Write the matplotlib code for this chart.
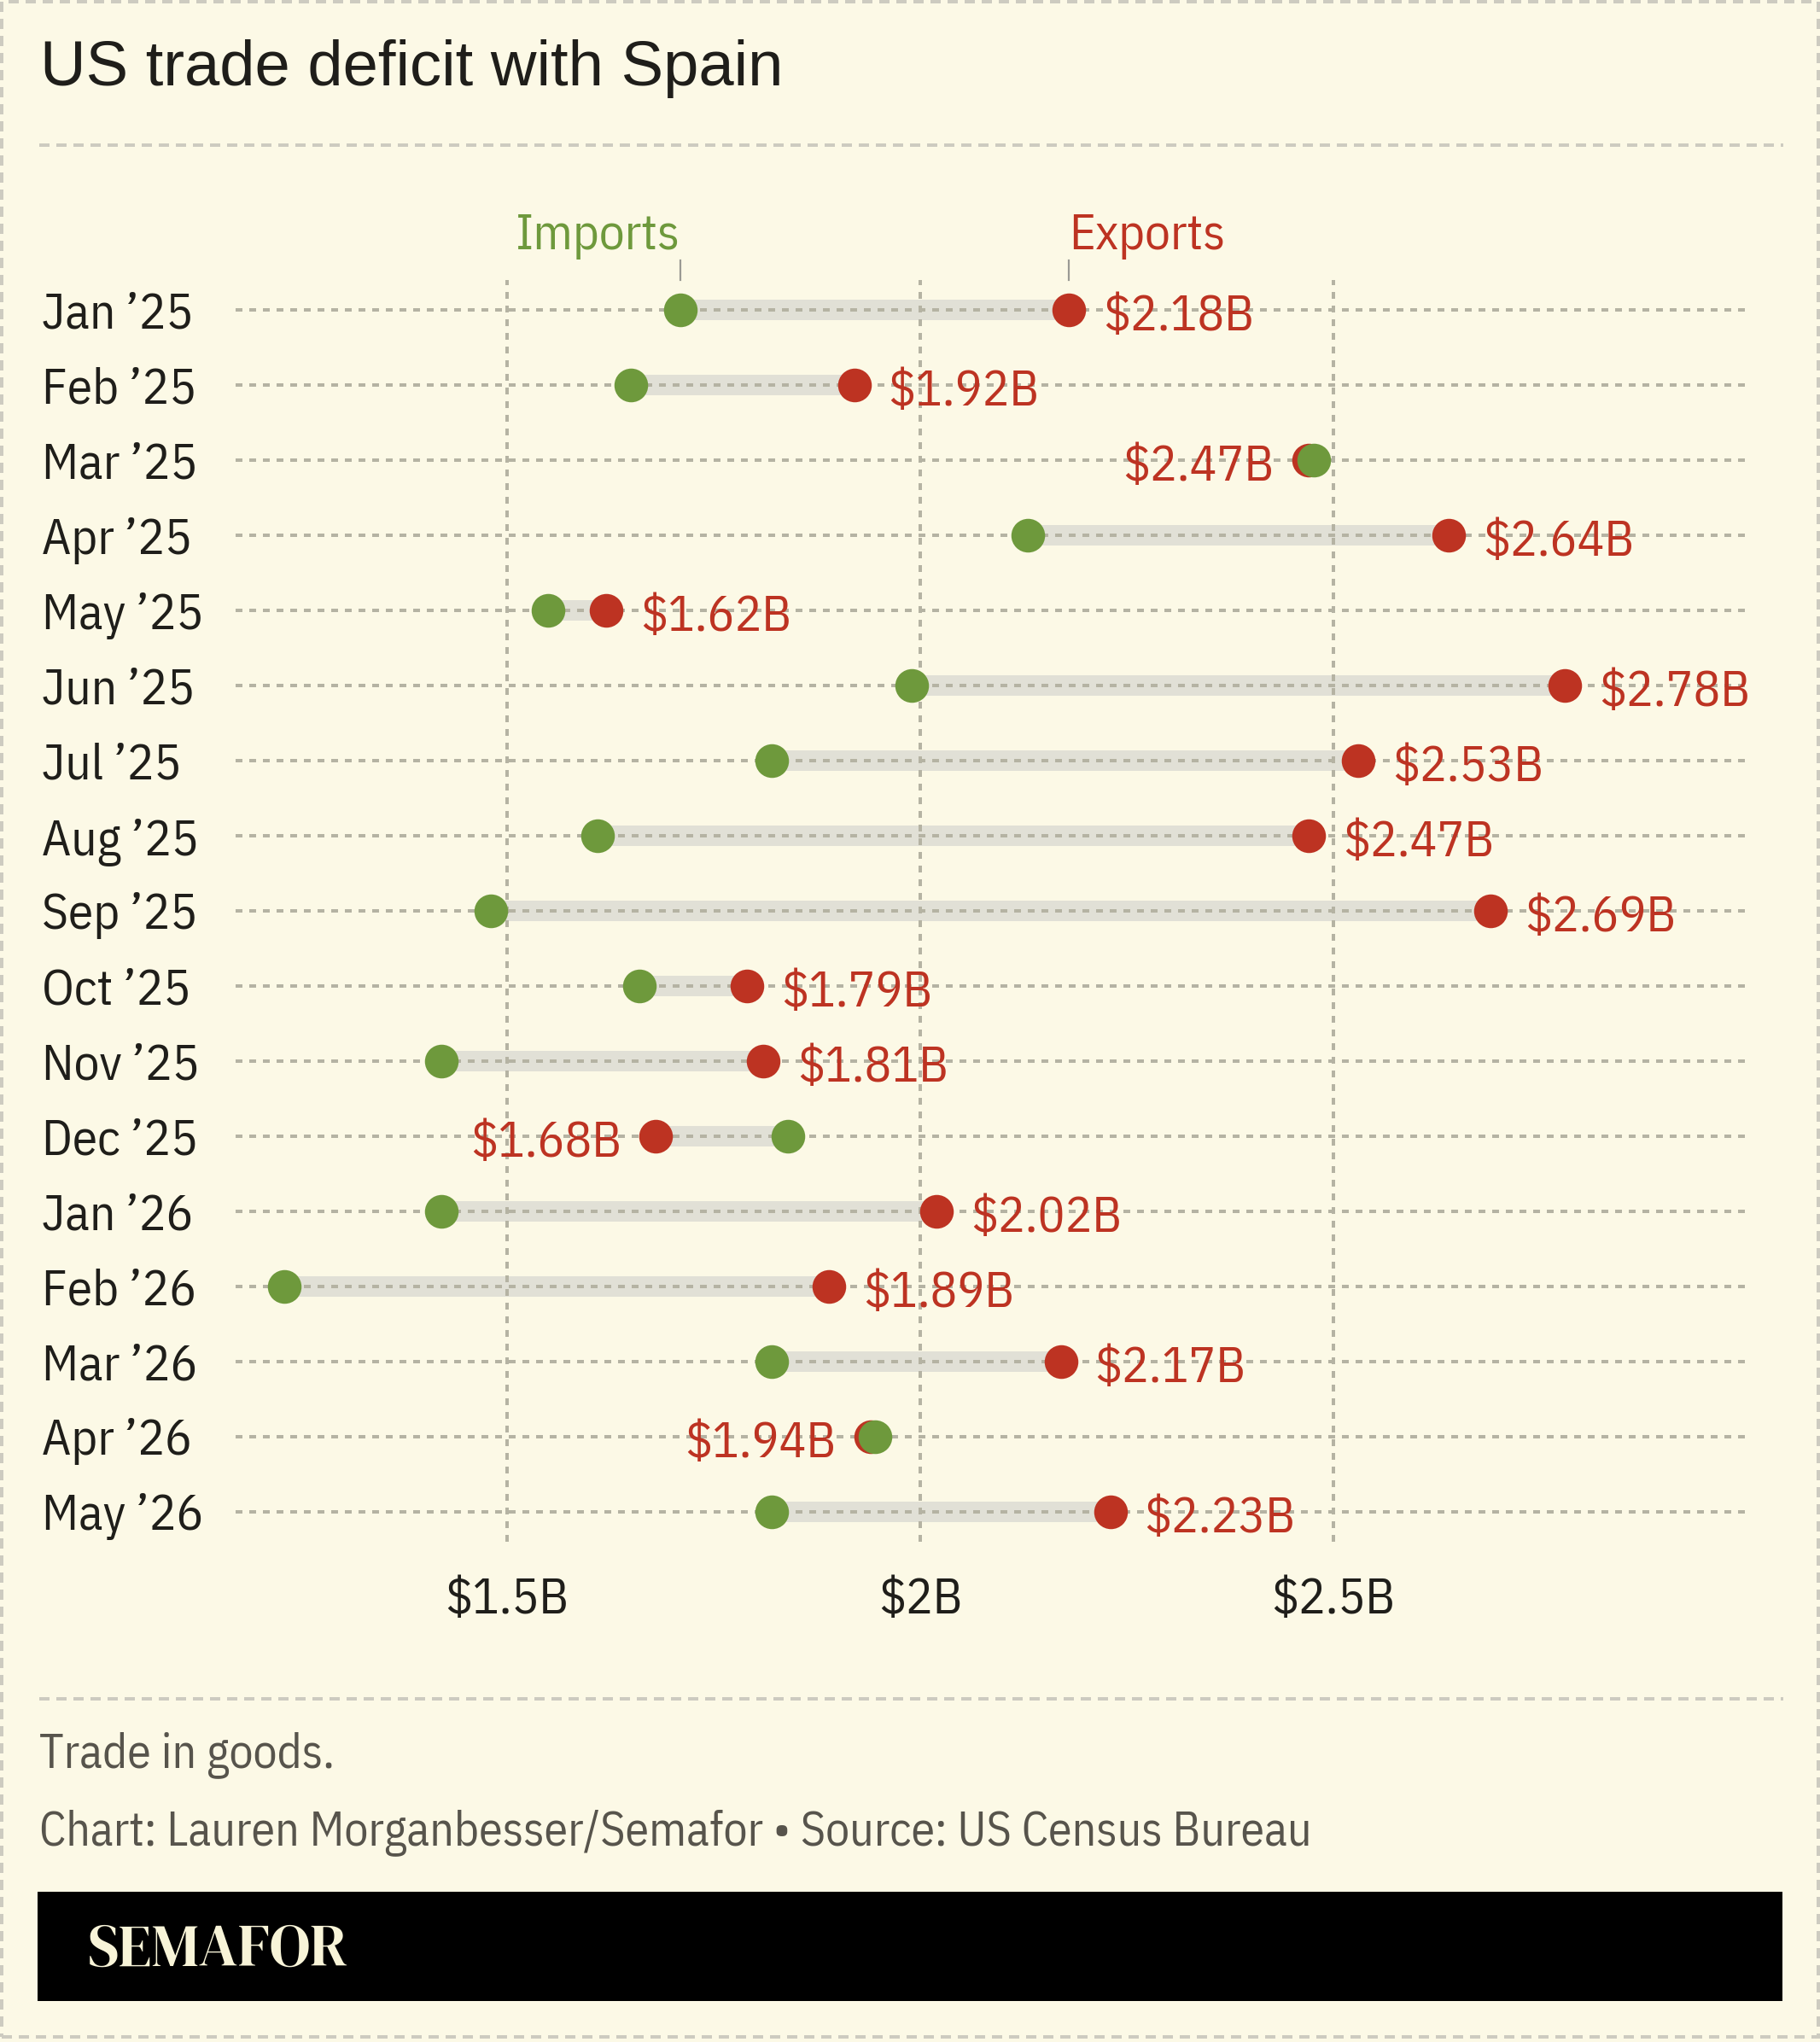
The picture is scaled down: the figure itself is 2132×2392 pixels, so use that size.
import matplotlib
matplotlib.use("Agg")
import matplotlib.pyplot as plt
from matplotlib.lines import Line2D
from matplotlib.patches import Rectangle

# ---------------- data ----------------
months = ["Jan ’25", "Feb ’25", "Mar ’25", "Apr ’25", "May ’25", "Jun ’25",
          "Jul ’25", "Aug ’25", "Sep ’25", "Oct ’25", "Nov ’25", "Dec ’25",
          "Jan ’26", "Feb ’26", "Mar ’26", "Apr ’26", "May ’26"]
exports = [2.18, 1.92, 2.47, 2.64, 1.62, 2.78, 2.53, 2.47, 2.69, 1.79,
           1.81, 1.68, 2.02, 1.89, 2.17, 1.94, 2.23]
imports = [1.71, 1.65, 2.476, 2.13, 1.55, 1.99, 1.82, 1.61, 1.48, 1.66,
           1.42, 1.84, 1.42, 1.23, 1.82, 1.945, 1.82]
tick_values = [1.5, 2.0, 2.5]
tick_labels = ["$1.5B", "$2B", "$2.5B"]

title = "US trade deficit with Spain"
note = "Trade in goods."
credit = "Chart: Lauren Morganbesser/Semafor • Source: US Census Bureau"
logo = "SEMAFOR"

# ---------------- style ----------------
BG = "#FCF9E6"
GREEN = "#6E993C"
RED = "#BD3322"
BAR = "#E1E0D6"
GRID = "#B5B3A3"
SEP = "#CDCBC0"
TEXT = "#1F1E1A"
FOOT = "#57544C"
LOGO = "#F8F4D8"
COND = ["IBM Plex Sans Condensed", "DejaVu Sans"]
TITLEF = ["Liberation Sans", "DejaVu Sans"]
LOGOF = ["DM Serif Display", "Playfair Display", "Liberation Serif", "DejaVu Serif"]
LBL = 21.3

W, H, DPI = 2132, 2392, 200
PX = 72.0 / DPI  # points per pixel

fig = plt.figure(figsize=(W / DPI, H / DPI), dpi=DPI, facecolor=BG)
renderer = fig.canvas.get_renderer()


def fx(px):
    return px / W


def fy(py):
    return 1 - py / H


def fit_size(text, family, target_px, weight="normal", base=20.0):
    t = fig.text(0, 0, text, fontsize=base, family=family, weight=weight)
    w = t.get_window_extent(renderer).width
    t.remove()
    return base * target_px / w


# ---------------- axes ----------------
ax_left, ax_right, ax_top, ax_bot = 276, 2044, 328, 1806
ax = fig.add_axes([fx(ax_left), fy(ax_bot), fx(ax_right - ax_left), (ax_bot - ax_top) / H])
ax.set_facecolor("none")
rows = list(range(len(months)))
ax.set_xlim(1.1715, 2.998)
ax.set_ylim(len(months) - 1 + 0.4, -0.4)
for s in ax.spines.values():
    s.set_visible(False)

# connector bars
bars = ax.hlines(rows, imports, exports, color=BAR, lw=24 * PX, zorder=1)
bars.set_capstyle("butt")

# grid
ax.set_axisbelow(False)
ax.grid(True, which="major", axis="both", color=GRID, lw=4 * PX,
        linestyle=(0, (2, 2)))

# dots: exports first, imports on top
ax.plot(exports, rows, "o", color=RED, ms=39.5 * PX, mew=0, zorder=4, clip_on=False)
ax.plot(imports, rows, "o", color=GREEN, ms=39.5 * PX, mew=0, zorder=5, clip_on=False)

# ticks
ax.set_xticks(tick_values, labels=tick_labels)
ax.set_yticks(rows, labels=months)
ax.tick_params(axis="x", length=0, pad=14.8, labelsize=LBL, labelcolor=TEXT)
ax.tick_params(axis="y", length=0, pad=(ax_left - 49) * PX, labelsize=LBL, labelcolor=TEXT)
for lab in ax.get_xticklabels() + ax.get_yticklabels():
    lab.set_family(COND)
for lab in ax.get_yticklabels():
    lab.set_ha("left")

# value labels
for r, (e, i) in enumerate(zip(exports, imports)):
    right = e >= i
    ax.annotate(f"${e:.2f}B", xy=(e, r), xytext=((40 if right else -40) * PX, -24 * PX),
                textcoords="offset points", ha="left" if right else "right",
                va="baseline", color=RED, fontsize=LBL, family=COND, zorder=6,
                annotation_clip=False)

# legend labels with leader ticks
xa = ax.get_xaxis_transform()
for val, txt, col, ha in [(imports[0], "Imports", GREEN, "right"),
                          (exports[0], "Exports", RED, "left")]:
    ax.add_line(Line2D([val, val], [1.0, 1.0 + 23 / (ax_bot - ax_top)], transform=xa,
                       color="#9A9A94", lw=2.2 * PX, clip_on=False))
    ax.annotate(txt, xy=(val, 1.0), xycoords=xa, xytext=(0, 36 * PX),
                textcoords="offset points", ha=ha, va="baseline", color=col,
                fontsize=LBL, family=COND, annotation_clip=False)

# ---------------- figure decorations ----------------
tsize = fit_size(title, TITLEF, 870)
fig.text(fx(47), fy(100), title, fontsize=tsize, family=TITLEF, color=TEXT,
         ha="left", va="baseline")

csize = fit_size(credit, COND, 1491)
fig.text(fx(46), fy(2070), note, fontsize=csize, family=COND, color=FOOT,
         ha="left", va="baseline")
fig.text(fx(46), fy(2161), credit, fontsize=csize, family=COND, color=FOOT,
         ha="left", va="baseline")

# separators
sep_lw = 4 * PX
for y in (170, 1990):
    fig.add_artist(Line2D([fx(46), fx(2089)], [fy(y), fy(y)], transform=fig.transFigure,
                          color=SEP, lw=sep_lw, linestyle=(0, (12 / 4, 8 / 4))))

# outer dashed border
fig.add_artist(Rectangle((fx(2), fy(2386)), fx(2128), (2386 - 2) / H,
                         transform=fig.transFigure, fill=False, edgecolor=SEP,
                         lw=sep_lw, linestyle=(0, (12 / 4, 8 / 4))))

# logo bar
fig.add_artist(Rectangle((fx(44), fy(2344)), fx(2088 - 44), (2344 - 2216) / H,
                         transform=fig.transFigure, facecolor="black", edgecolor="none"))
lsize = fit_size(logo, LOGOF, 305, weight="bold")
fig.text(fx(103), fy(2303), logo, fontsize=lsize, family=LOGOF, weight="bold",
         color=LOGO, ha="left", va="baseline")

fig.savefig("out.png", dpi=DPI, facecolor=BG)
